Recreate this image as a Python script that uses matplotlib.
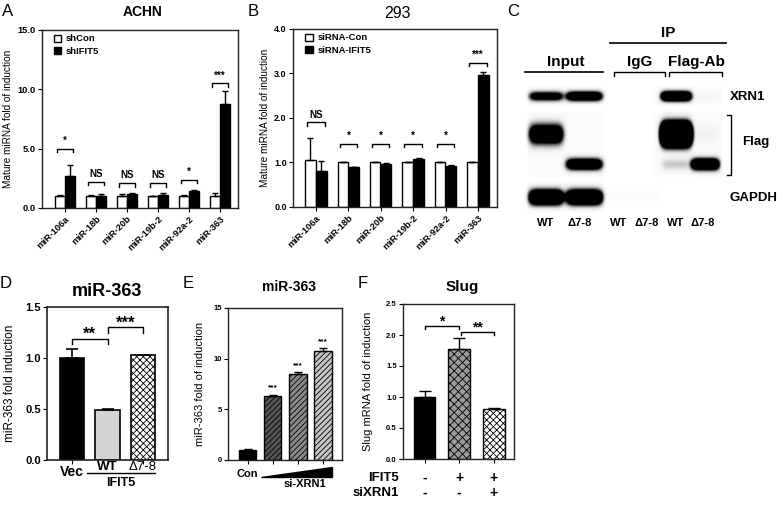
import numpy as np
import matplotlib
matplotlib.use('Agg')
import matplotlib.pyplot as plt
from matplotlib.patches import Polygon

plt.rcParams['font.family'] = ['Liberation Sans', 'DejaVu Sans']
plt.rcParams['font.weight'] = 'bold'
plt.rcParams['hatch.linewidth'] = 0.6

W, H = 784, 505

# ---- A: ACHN ----
mirnas = ['miR-106a', 'miR-18b', 'miR-20b', 'miR-19b-2', 'miR-92a-2', 'miR-363']
achn_con = [1.0, 1.0, 1.0, 1.0, 1.0, 1.0]
achn_con_err = [0.1, 0.1, 0.2, 0.05, 0.1, 0.3]
achn_kd = [2.7, 1.05, 1.15, 1.1, 1.4, 8.75]
achn_kd_err = [0.9, 0.1, 0.1, 0.15, 0.1, 1.1]
achn_sig = ['*', 'NS', 'NS', 'NS', '*', '***']
achn_brk = [5.0, 2.2, 2.1, 2.1, 2.4, 10.5]

# ---- B: 293 ----
h293_con = [1.05, 1.0, 1.0, 1.0, 1.0, 1.0]
h293_con_err = [0.5, 0.02, 0.02, 0.02, 0.02, 0.02]
h293_kd = [0.8, 0.89, 0.96, 1.08, 0.92, 2.97]
h293_kd_err = [0.23, 0.02, 0.02, 0.03, 0.02, 0.06]
h293_sig = ['NS', '*', '*', '*', '*', '***']
h293_brk = [1.9, 1.42, 1.42, 1.42, 1.42, 3.24]

# ---- C: western blot (band intensity per lane) ----
lane_labels = ['WT', 'Δ7-8', 'WT', 'Δ7-8', 'WT', 'Δ7-8']
xrn1_band = [1.6, 2.2, 0.0, 0.0, 3.0, 0.05]
flag_wt_band = [2.2, 0.0, 0.0, 0.0, 9.0, 0.08]
flag_del_band = [0.0, 2.2, 0.0, 0.0, 0.3, 2.6]
gapdh_band = [3.0, 3.0, 0.03, 0.03, 0.0, 0.0]

# ---- D: miR-363 ----
d_groups = ['Vec', 'WT', 'Δ7-8']
d_vals = [1.0, 0.49, 1.03]
d_err = [0.09, 0.01, 0.0]

# ---- E: miR-363 vs si-XRN1 dose ----
e_vals = [1.0, 6.3, 8.45, 10.75]
e_err = [0.08, 0.15, 0.25, 0.3]
e_sig = ['', '***', '***', '***']

# ---- F: Slug ----
f_vals = [1.0, 1.77, 0.8]
f_err = [0.1, 0.18, 0.02]
f_ifit5 = ['-', '+', '+']
f_sixrn1 = ['-', '-', '+']


def px_axes(fig, x0, y0, x1, y1):
    return fig.add_axes([x0 / W, 1 - y1 / H, (x1 - x0) / W, (y1 - y0) / H])


def bracket(ax, x1, x2, y, d, txt, fs, pad):
    ax.plot([x1, x1, x2, x2], [y - d, y, y, y - d], color='k', lw=1)
    ax.text((x1 + x2) / 2, y + pad, txt, ha='center', va='bottom',
            fontsize=fs, fontweight='bold')


def style_box(ax, lw=1.0):
    for s in ax.spines.values():
        s.set_linewidth(lw)
        s.set_color('#222222')
    ax.tick_params(direction='out', length=3, width=0.8, pad=1.5)


fig = plt.figure(figsize=(W / 100, H / 100), dpi=100)
ov = fig.add_axes([0, 0, 1, 1])
ov.set_xlim(0, W)
ov.set_ylim(H, 0)
ov.axis('off')


def grouped(ax, con, con_err, kd, kd_err, sig, brk, d, pad, labels):
    x = np.arange(len(mirnas))
    ax.bar(x - 0.17, con, 0.32, color='white', edgecolor='k', lw=1, label=labels[0], zorder=2)
    ax.bar(x + 0.17, kd, 0.32, color='black', edgecolor='k', lw=1, label=labels[1], zorder=2)
    ax.errorbar(x - 0.17, con, yerr=[np.zeros(len(x)), con_err], fmt='none',
                ecolor='k', capsize=2.5, elinewidth=1, capthick=1)
    ax.errorbar(x + 0.17, kd, yerr=[np.zeros(len(x)), kd_err], fmt='none',
                ecolor='k', capsize=2.5, elinewidth=1, capthick=1)
    for xi, s, b in zip(x, sig, brk):
        bracket(ax, xi - 0.27, xi + 0.27, b, d, s, 7, pad)
    ax.set_xticks(x)
    ax.set_xticklabels(mirnas, rotation=45, ha='right', rotation_mode='anchor', fontsize=6.7)
    ax.set_ylabel('Mature miRNA fold of induction', fontsize=7.2)
    ax.legend(loc='upper left', bbox_to_anchor=(0.06, 0.975), frameon=False, fontsize=6.8,
              handlelength=0.8, handleheight=0.8, labelspacing=0.35, handletextpad=0.5,
              borderpad=0, borderaxespad=0)
    style_box(ax)


# A
axA = px_axes(fig, 42, 30, 238, 208)
grouped(axA, achn_con, achn_con_err, achn_kd, achn_kd_err, achn_sig, achn_brk,
        0.3, 0.25, ['shCon', 'shIFIT5'])
axA.set_xlim(-0.74, 5.58)
axA.set_ylim(0, 15)
axA.set_yticks([0, 5, 10, 15])
axA.set_yticklabels(['0.0', '5.0', '10.0', '15.0'], fontsize=6.7)
axA.yaxis.set_label_coords(-0.15, 0.5)

# B
axB = px_axes(fig, 293, 29, 497, 207)
grouped(axB, h293_con, h293_con_err, h293_kd, h293_kd_err, h293_sig, h293_brk,
        0.07, 0.06, ['siRNA-Con', 'siRNA-IFIT5'])
axB.set_xlim(-0.71, 5.59)
axB.set_ylim(0, 4)
axB.set_yticks([0, 1, 2, 3, 4])
axB.set_yticklabels(['0.0', '1.0', '2.0', '3.0', '4.0'], fontsize=6.5)
axB.yaxis.set_label_coords(-0.115, 0.5)

# C blot image (pixel space)
lane_x = [546, 584, 622, 647, 676, 705]
lane_w = [34, 36, 26, 26, 30, 28]
rows = [(xrn1_band, 96, 4.5), (flag_wt_band, 134, 9.5), (flag_del_band, 164, 5.5), (gapdh_band, 197, 7)]
xs = np.arange(520, 732, 0.5)
ys = np.arange(80, 212, 0.5)
X, Y = np.meshgrid(xs, ys)
img = np.zeros_like(X)
for (y0, y1), xr in [((87, 104), [(528, 603), (655, 722)]), ((112, 176), [(528, 603), (655, 722)]),
                     ((183, 207), [(528, 603)])]:
    for x0, x1 in xr:
        img[(Y >= y0) & (Y <= y1) & (X >= x0) & (X <= x1)] += 0.035
for amps, cy, hh in rows:
    for cx, lw_, a in zip(lane_x, lane_w, amps):
        if a > 0:
            img += a * np.exp(-((X - cx) / (lw_ / 2)) ** 6) * np.exp(-((Y - cy) / hh) ** 2)
img = np.clip(img, 0, 1)
ov.imshow(img, cmap='Greys', vmin=0, vmax=1, extent=(520, 732, 212, 80),
          interpolation='bilinear', aspect='auto', zorder=1)
ov.set_xlim(0, W)
ov.set_ylim(H, 0)

ov.plot([525, 603], [72, 72], color='k', lw=1.2)
ov.plot([610, 726], [43, 43], color='k', lw=1.2)
ov.plot([614, 614, 665, 665], [76, 72, 72, 76], color='k', lw=1)
ov.plot([669, 669, 722, 722], [76, 72, 72, 76], color='k', lw=1)
ov.plot([727, 731, 731, 727], [115, 115, 175, 175], color='k', lw=1)
ov.text(668, 33, 'IP', ha='center', va='center', fontsize=11)
ov.text(566, 62, 'Input', ha='center', va='center', fontsize=11)
ov.text(640, 62, 'IgG', ha='center', va='center', fontsize=11)
ov.text(696, 62, 'Flag-Ab', ha='center', va='center', fontsize=11)
ov.text(730, 97, 'XRN1', ha='left', va='center', fontsize=9.5)
ov.text(742, 142, 'Flag', ha='left', va='center', fontsize=9.5)
ov.text(730, 198, 'GAPDH', ha='left', va='center', fontsize=9.5)
for lx, lab in zip([546, 580, 619, 647, 676, 703], lane_labels):
    ov.text(lx, 223, lab, ha='center', va='center', fontsize=8)

# panel letters and titles
for lx, ly, lab in [(8, 12, 'A'), (253, 12, 'B'), (513, 12, 'C'), (6, 283, 'D'), (188, 283, 'E'), (363, 283, 'F')]:
    ov.text(lx, ly, lab, ha='center', va='center', fontsize=12, fontweight='normal')
ov.text(143, 12, 'ACHN', ha='center', va='center', fontsize=10)
ov.text(398, 14, '293', ha='center', va='center', fontsize=11.5, fontweight='normal')
ov.text(107, 291, 'miR-363', ha='center', va='center', fontsize=13)
ov.text(289, 287, 'miR-363', ha='center', va='center', fontsize=10)
ov.text(462, 287, 'Slug', ha='center', va='center', fontsize=11)

# D
axD = px_axes(fig, 47, 307, 168, 460)
xd = np.arange(3)
axD.bar(xd, d_vals, 0.68, color=['black', '#d4d4d4', 'white'], edgecolor='k', lw=1.2,
        hatch=['', '', 'xxxxx'], zorder=2)
axD.errorbar(xd, d_vals, yerr=[np.zeros(3), d_err], fmt='none', ecolor='k',
             capsize=4, elinewidth=1.2, capthick=1.2)
bracket(axD, 0, 1, 1.19, 0.05, '**', 12, -0.03)
bracket(axD, 1, 2, 1.30, 0.05, '***', 12, -0.03)
axD.set_xlim(-0.7, 2.7)
axD.set_ylim(0, 1.5)
axD.set_yticks([0, 0.5, 1.0, 1.5])
axD.set_yticklabels(['0.0', '0.5', '1.0', '1.5'], fontsize=8)
axD.set_xticks(xd)
axD.set_xticklabels([])
axD.set_ylabel('miR-363 fold induction', fontsize=8.5)
axD.yaxis.set_label_coords(-0.26, 0.5)
style_box(axD, 1.2)
tD = axD.get_xaxis_transform()
axD.text(0, -0.08, d_groups[0], transform=tD, ha='center', va='center', fontsize=10)
axD.text(1, -0.045, d_groups[1], transform=tD, ha='center', va='center', fontsize=9.5)
axD.text(2, -0.045, d_groups[2], transform=tD, ha='center', va='center', fontsize=9.5,
         fontweight='normal')
axD.plot([0.42, 2.34], [-0.088, -0.088], transform=tD, color='k', lw=1, clip_on=False)
axD.text(1.38, -0.15, 'IFIT5', transform=tD, ha='center', va='center', fontsize=9)

# E
axE = px_axes(fig, 228, 308, 342, 460)
xe = np.arange(4)
axE.bar(xe, e_vals, 0.7, color=['black', '#555555', '#8a8a8a', '#c4c4c4'], edgecolor='k',
        lw=1, hatch=['', '//////', '//////', '//////'], zorder=2)
axE.errorbar(xe, e_vals, yerr=[np.zeros(4), e_err], fmt='none', ecolor='k',
             capsize=3, elinewidth=1, capthick=1)
for xi, v, e, s in zip(xe, e_vals, e_err, e_sig):
    axE.text(xi, v + e + 0.3, s, ha='center', va='bottom', fontsize=6)
axE.set_xlim(-0.78, 3.76)
axE.set_ylim(0, 15)
axE.set_yticks([0, 5, 10, 15])
axE.set_yticklabels(['0', '5', '10', '15'], fontsize=5.5)
axE.set_xticks(xe)
axE.set_xticklabels([])
axE.set_ylabel('miR-363 fold of induction', fontsize=8)
axE.yaxis.set_label_coords(-0.2, 0.5)
style_box(axE)
tE = axE.get_xaxis_transform()
axE.text(0, -0.09, 'Con', transform=tE, ha='center', va='center', fontsize=8)
axE.add_patch(Polygon([(0.55, -0.115), (3.35, -0.115), (3.35, -0.045)], closed=True,
                      transform=tE, color='k', clip_on=False))
axE.text(2.3, -0.16, 'si-XRN1', transform=tE, ha='center', va='center', fontsize=8)

# F
axF = px_axes(fig, 403, 304, 514, 459)
xf = np.arange(3)
axF.bar(xf, f_vals, 0.63, color=['black', '#9a9a9a', 'white'], edgecolor='k', lw=1,
        hatch=['', 'xxxx', 'xxxxx'], zorder=2)
axF.errorbar(xf, f_vals, yerr=[np.zeros(3), f_err], fmt='none', ecolor='k',
             capsize=4, elinewidth=1, capthick=1)
bracket(axF, 0, 1, 2.15, 0.05, '*', 10, -0.04)
bracket(axF, 1.05, 2, 2.05, 0.05, '**', 10, -0.04)
axF.set_xlim(-0.62, 2.58)
axF.set_ylim(0, 2.5)
axF.set_yticks([0, 0.5, 1.0, 1.5, 2.0, 2.5])
axF.set_yticklabels(['0.0', '0.5', '1.0', '1.5', '2.0', '2.5'], fontsize=5.5)
axF.set_xticks(xf)
axF.set_xticklabels([])
axF.set_ylabel('Slug mRNA fold of induction', fontsize=8)
axF.yaxis.set_label_coords(-0.27, 0.5)
style_box(axF)
tF = axF.get_xaxis_transform()
axF.text(-0.75, -0.12, 'IFIT5', transform=tF, ha='right', va='center', fontsize=9.5)
axF.text(-0.75, -0.22, 'siXRN1', transform=tF, ha='right', va='center', fontsize=9.5)
for xi, a, b in zip(xf, f_ifit5, f_sixrn1):
    axF.text(xi, -0.12, a, transform=tF, ha='center', va='center', fontsize=10)
    axF.text(xi, -0.22, b, transform=tF, ha='center', va='center', fontsize=10)

fig.savefig('out.png', dpi=100)
